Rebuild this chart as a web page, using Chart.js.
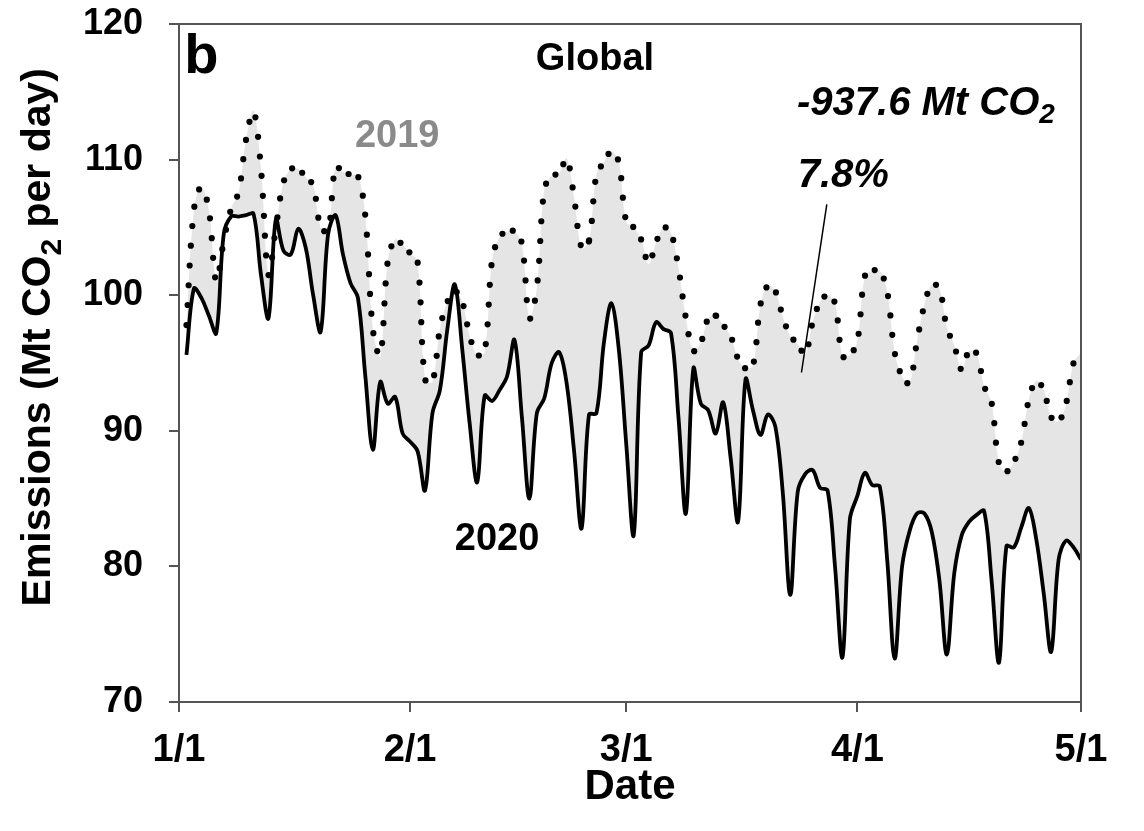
<!DOCTYPE html>
<html>
<head>
<meta charset="utf-8">
<script src="https://cdn.jsdelivr.net/npm/chart.js@4.4.1/dist/chart.umd.min.js"></script>
<style>
  html, body { margin: 0; padding: 0; background: #fff; }
</style>
</head>
<body>
<canvas id="myChart" width="1144" height="831"></canvas>
<script>
// Global daily emissions (Mt CO2 per day), one value per day from Jan 1 to Apr 30
var emissions2019 = [
  97.8, 106.3, 108.0, 106.3, 101.0, 104.0, 106.4, 107.6, 111.5, 113.6,
  109.3, 101.5, 105.0, 108.3, 109.3, 109.3, 108.7, 108.1, 105.0, 104.7,
  109.5, 109.1, 108.9, 108.8, 105.8, 97.5, 95.5, 102.5, 104.1, 103.7,
  103.1, 102.5, 93.8, 93.6, 97.5, 99.5, 100.3, 99.5, 97.0, 95.6,
  95.8, 102.6, 104.3, 104.7, 104.7, 103.8, 98.3, 100.5, 107.8, 108.8,
  109.0, 110.1, 107.2, 103.5, 104.0, 108.9, 109.8, 110.6, 109.8, 105.4,
  105.0, 104.1, 102.3, 103.9, 105.0, 104.6, 102.0, 98.3, 95.9, 96.5,
  98.3, 98.5, 97.8, 97.0, 95.3, 94.6, 94.8, 99.3, 100.7, 100.3,
  98.4, 97.0, 96.4, 95.6, 98.0, 99.5, 100.0, 99.4, 95.5, 95.6,
  96.6, 101.4, 101.8, 101.8, 100.3, 95.8, 94.0, 93.5, 96.6, 99.3,
  100.8, 100.5, 97.6, 96.3, 94.5, 95.9, 95.7, 93.3, 92.1, 87.6,
  87.0, 87.7, 89.2, 92.3, 93.7, 93.0, 91.0, 90.7, 92.0, 95.0,
  95.8
];
var emissions2020 = [
  95.6, 100.5, 99.8, 98.5, 97.2, 104.5, 105.8, 105.8, 105.9, 106.0,
  101.5, 98.3, 105.6, 103.3, 103.0, 104.9, 103.5, 100.0, 97.3, 104.5,
  105.9, 103.0, 100.9, 99.8, 94.0, 88.6, 93.6, 92.0, 92.5, 89.8,
  89.2, 88.5, 85.6, 91.3, 93.0, 97.5, 100.8, 96.0, 90.5, 86.2,
  92.6, 92.2, 93.0, 94.0, 96.7, 91.0, 85.0, 91.3, 92.4, 95.0,
  95.8, 93.5, 88.5, 82.8, 91.2, 91.3, 96.5, 99.4, 96.0, 89.0,
  82.3, 95.8, 96.3, 98.0, 97.5, 97.2, 91.0, 83.9, 94.6, 92.0,
  91.5, 89.8, 92.1, 88.0, 83.3, 93.8, 91.5, 89.7, 91.2, 90.3,
  85.4, 77.9, 85.5, 86.8, 87.1, 85.8, 85.6, 80.0, 73.3, 83.5,
  85.2, 86.9, 86.0, 85.9, 80.5, 73.2, 80.0, 82.6, 83.9, 83.9,
  82.5, 79.0, 73.5, 79.5, 82.3, 83.3, 83.8, 84.1, 79.0, 72.9,
  81.5, 81.4, 82.9, 84.3, 82.0, 78.0, 73.7, 80.5, 81.9, 81.4,
  80.5
];
var tickDays = [0, 31, 60, 91, 121];
var tickLabels = ['1/1', '2/1', '3/1', '4/1', '5/1'];

var FONT = '"Liberation Sans", Arial, sans-serif';
var AXIS = '#555555';

// each daily value is drawn at the end of its day
var days = emissions2020.map(function (v, i) { return i + 1; });
function pts(values) {
  return values.map(function (v, i) { return { x: days[i], y: v }; });
}

// dotted 2019 line: dots spaced ~10px across, ~20px on the steep parts, as in the print
var DOT_STEP = 10, Y_SQUASH = 2;
function metricLen(a, b) { return Math.hypot(b.x - a.x, (b.y - a.y) / Y_SQUASH); }
function dotStyle(ctx) {
  var p = ctx.chart.getDatasetMeta(ctx.datasetIndex).data;
  var before = 0;
  for (var i = 0; i < ctx.p0DataIndex; i++) before += metricLen(p[i], p[i + 1]);
  var len = Math.hypot(ctx.p1.x - ctx.p0.x, ctx.p1.y - ctx.p0.y);
  var m = metricLen(ctx.p0, ctx.p1);
  var s = m > 0 ? len / m : 1;
  var gap = DOT_STEP * s;
  var r = (DOT_STEP - before % DOT_STEP) % DOT_STEP;
  return { dash: [0, gap], offset: (gap - r * s) % gap };
}

function drawParts(c, parts, x, y) {
  parts.forEach(function (p) {
    c.font = p[1];
    c.fillText(p[0], x, y + (p[2] || 0));
    x += c.measureText(p[0]).width;
  });
}
function partsWidth(c, parts) {
  var w = 0;
  parts.forEach(function (p) { c.font = p[1]; w += c.measureText(p[0]).width; });
  return w;
}

var notes = {
  id: 'notes',
  afterDraw: function (chart) {
    var c = chart.ctx, xs = chart.scales.x, ys = chart.scales.y, a = chart.chartArea;
    c.save();
    c.strokeStyle = AXIS;
    c.lineWidth = 2;
    c.beginPath();
    c.moveTo(a.left, a.top);
    c.lineTo(a.right, a.top);
    c.lineTo(a.right, a.bottom);
    c.stroke();

    c.fillStyle = '#000';
    c.textBaseline = 'alphabetic';
    c.textAlign = 'left';
    c.font = 'bold 56px ' + FONT;
    c.fillText('b', xs.getPixelForValue(0.7), ys.getPixelForValue(116.4));

    c.textAlign = 'center';
    c.font = 'bold 38px ' + FONT;
    c.fillText('Global', xs.getPixelForValue(55.8), ys.getPixelForValue(116.6));
    c.textAlign = 'left';
    c.fillStyle = '#8a8a8a';
    c.fillText('2019', xs.getPixelForValue(23.6), ys.getPixelForValue(110.9));
    c.fillStyle = '#000';
    c.fillText('2020', xs.getPixelForValue(37.0), ys.getPixelForValue(81.2));

    var it = 'italic bold 40px ' + FONT, itSub = 'italic bold 28px ' + FONT;
    drawParts(c, [['-937.6 Mt CO', it], ['2', itSub, 8]], xs.getPixelForValue(82.9), ys.getPixelForValue(113.3));
    c.font = it;
    c.fillText('7.8%', xs.getPixelForValue(83.0), ys.getPixelForValue(108.0));

    c.lineWidth = 1.5;
    c.strokeStyle = '#000';
    c.beginPath();
    c.moveTo(xs.getPixelForValue(86.9), ys.getPixelForValue(106.7));
    c.lineTo(xs.getPixelForValue(83.5), ys.getPixelForValue(94.3));
    c.stroke();

    // y axis title with subscript
    var tf = 'bold 41px ' + FONT, ts = 'bold 30px ' + FONT;
    var title = [['Emissions (Mt CO', tf], ['2', ts, 11], [' per day)', tf]];
    c.translate(50, ys.getPixelForValue(96.9));
    c.rotate(-Math.PI / 2);
    drawParts(c, title, -partsWidth(c, title) / 2, 0);
    c.restore();
  }
};

new Chart(document.getElementById('myChart'), {
  type: 'line',
  data: {
    datasets: [
      {
        label: '2019',
        data: pts(emissions2019),
        borderColor: '#000',
        borderWidth: 6.2,
        borderCapStyle: 'round',
        pointRadius: 0,
        tension: 0.35,
        fill: false,
        segment: {
          borderDash: function (ctx) { return dotStyle(ctx).dash; },
          borderDashOffset: function (ctx) { return dotStyle(ctx).offset; }
        }
      },
      {
        label: 'reduction',
        data: pts(emissions2019),
        borderWidth: 0,
        pointRadius: 0,
        tension: 0.35,
        fill: '+1',
        backgroundColor: '#e5e5e5'
      },
      {
        label: '2020',
        data: pts(emissions2020),
        borderColor: '#000',
        borderWidth: 3.8,
        pointRadius: 0,
        tension: 0.35,
        fill: false
      }
    ]
  },
  options: {
    responsive: false,
    animation: false,
    layout: { padding: { top: 24, right: 63, left: 0, bottom: 0 } },
    plugins: {
      legend: { display: false },
      tooltip: { enabled: false },
      filler: { propagate: false, drawTime: 'beforeDatasetsDraw' }
    },
    scales: {
      x: {
        type: 'linear',
        min: 0,
        max: 121,
        afterBuildTicks: function (s) { s.ticks = tickDays.map(function (v) { return { value: v }; }); },
        afterFit: function (s) { s.height = 129; },
        ticks: {
          callback: function (v) { return tickLabels[tickDays.indexOf(v)]; },
          font: { family: FONT, size: 38, weight: 'bold' },
          color: '#000',
          padding: 16,
          maxRotation: 0,
          autoSkip: false
        },
        grid: { drawOnChartArea: false, tickLength: 10, color: AXIS, lineWidth: 2 },
        border: { color: AXIS, width: 2 },
        title: {
          display: true,
          text: 'Date',
          color: '#000',
          font: { family: FONT, size: 42, weight: 'bold' },
          padding: { top: 0, bottom: 18 }
        }
      },
      y: {
        min: 70,
        max: 120,
        afterFit: function (s) { s.width = 179; s.paddingTop = 0; s.paddingBottom = 0; },
        ticks: {
          stepSize: 10,
          font: { family: FONT, size: 36, weight: 'bold', lineHeight: 0.6 },
          color: '#000',
          padding: 26
        },
        grid: { drawOnChartArea: false, tickLength: 10, color: AXIS, lineWidth: 2 },
        border: { color: AXIS, width: 2 }
      }
    }
  },
  plugins: [notes]
});
</script>
</body>
</html>
